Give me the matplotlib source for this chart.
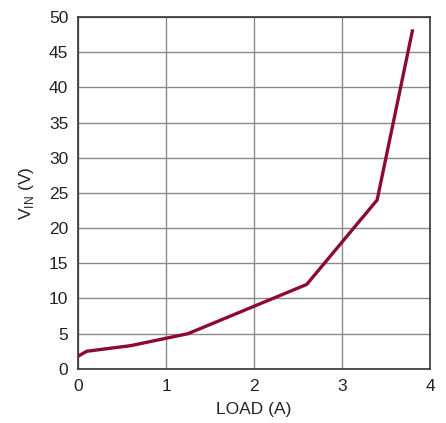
import matplotlib
matplotlib.use('Agg')
import matplotlib.pyplot as plt

plt.rcParams['font.family'] = ['Liberation Sans Narrow', 'Liberation Sans', 'DejaVu Sans']
plt.rcParams['mathtext.fontset'] = 'custom'
plt.rcParams['mathtext.rm'] = 'Liberation Sans'

# data
load_a = [0.0, 0.1, 0.6, 1.25, 2.6, 3.4, 3.8]
vin_v = [1.8, 2.5, 3.3, 5.0, 12.0, 24.0, 48.0]

fig = plt.figure(figsize=(4.46, 4.23), dpi=100)
ax = fig.add_axes([0.175, 0.128, 0.789, 0.832])

ax.plot(load_a, vin_v, color='#8c0b30', linewidth=2.4, solid_joinstyle='miter', zorder=5)

ax.set_xlim(0, 4)
ax.set_ylim(0, 50)
ax.set_xticks([0, 1, 2, 3, 4])
ax.set_yticks(range(0, 51, 5))
ax.grid(True, color='#8a8a8a', linewidth=1.0)
ax.tick_params(length=0, labelsize=12.5, colors='#222222', pad=7)
for s in ax.spines.values():
    s.set_color('#333333')
    s.set_linewidth(1.2)

ax.set_xlabel('LOAD (A)', fontsize=12.5, color='#222222', labelpad=6)
ax.set_ylabel(r'V$_{\mathrm{IN}}$ (V)', fontsize=12.5, color='#222222', labelpad=9)

fig.savefig('out.png', dpi=100)
